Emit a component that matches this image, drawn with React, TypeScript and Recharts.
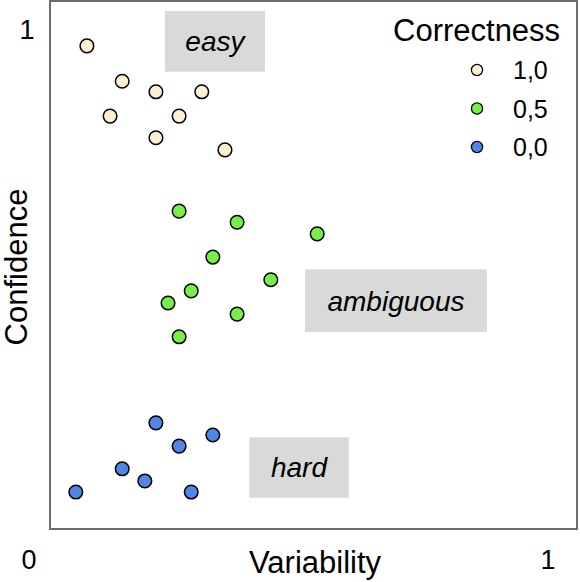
import { ScatterChart, Scatter, XAxis, YAxis, ReferenceArea, Legend } from 'recharts';

// correctness classes, top to bottom in the legend
const correctnessLabels = ['1,0', '0,5', '0,0'];
const correctnessColors = ['#fdf0d2', '#77ef48', '#4f86e8'];

// variability (x) / confidence (y), both on 0..1
const easyPoints = [
  { x: 0.07, y: 0.915 },
  { x: 0.137, y: 0.848 },
  { x: 0.201, y: 0.828 },
  { x: 0.288, y: 0.828 },
  { x: 0.114, y: 0.782 },
  { x: 0.245, y: 0.782 },
  { x: 0.201, y: 0.741 },
  { x: 0.332, y: 0.718 },
];

const ambiguousPoints = [
  { x: 0.245, y: 0.602 },
  { x: 0.355, y: 0.581 },
  { x: 0.507, y: 0.559 },
  { x: 0.309, y: 0.515 },
  { x: 0.419, y: 0.472 },
  { x: 0.268, y: 0.451 },
  { x: 0.224, y: 0.428 },
  { x: 0.355, y: 0.407 },
  { x: 0.245, y: 0.364 },
];

const hardPoints = [
  { x: 0.201, y: 0.201 },
  { x: 0.309, y: 0.178 },
  { x: 0.245, y: 0.157 },
  { x: 0.137, y: 0.114 },
  { x: 0.18, y: 0.091 },
  { x: 0.049, y: 0.07 },
  { x: 0.268, y: 0.07 },
];

const regionLabels = ['easy', 'ambiguous', 'hard'];
const regionBounds = [
  { x1: 0.218, x2: 0.408, y1: 0.866, y2: 0.981 },
  { x1: 0.484, x2: 0.829, y1: 0.373, y2: 0.492 },
  { x1: 0.378, x2: 0.567, y1: 0.059, y2: 0.174 },
];

const seriesData = [easyPoints, ambiguousPoints, hardPoints];

const FONT = '"Liberation Sans", Arial, sans-serif';

const makeDot = (color: string) => (props: any) => (
  <circle cx={props.cx} cy={props.cy} r={6.8} fill={color} stroke="#000" strokeWidth={1.5} />
);

const XAxisText = (props: any) => {
  const vb = props.viewBox || { x: 50, y: 529, width: 527, height: 53 };
  return (
    <g fontFamily={FONT} fill="#000">
      <text x={vb.x - 21} y={vb.y + 40} fontSize={27} textAnchor="middle">0</text>
      <text x={vb.x + 498} y={vb.y + 40} fontSize={27} textAnchor="middle">1</text>
      <text x={vb.x + 265} y={vb.y + 44} fontSize={31} textAnchor="middle">Variability</text>
    </g>
  );
};

const YAxisText = (props: any) => {
  const vb = props.viewBox || { x: 0, y: 1, width: 50, height: 528 };
  const cx = vb.x + 27;
  const cy = vb.y + 266;
  return (
    <g fontFamily={FONT} fill="#000">
      <text x={vb.x + 27} y={vb.y + 38} fontSize={27} textAnchor="middle">1</text>
      <text x={cx} y={cy} fontSize={31} textAnchor="middle" transform={`rotate(-90, ${cx}, ${cy})`}>
        Confidence
      </text>
    </g>
  );
};

const CorrectnessLegend = () => (
  <svg width={190} height={170} style={{ display: 'block' }}>
    <text x={8} y={41} fontSize={31} fontFamily={FONT} fill="#000">Correctness</text>
    {correctnessLabels.map((label, i) => (
      <g key={label}>
        <circle cx={92} cy={70 + i * 38.5} r={5.6} fill={correctnessColors[i]} stroke="#000" strokeWidth={1.3} />
        <text x={128} y={79 + i * 38.5} fontSize={25} fontFamily={FONT} fill="#000">{label}</text>
      </g>
    ))}
  </svg>
);

export default function App() {
  return (
    <div style={{ position: 'absolute', left: 0, top: 0, width: 580, height: 582, background: '#fff', fontFamily: FONT }}>
      <ScatterChart width={580} height={582} margin={{ top: 1, right: 3, left: 0, bottom: 0 }}>
        <XAxis
          type="number"
          dataKey="x"
          domain={[0, 1]}
          height={53}
          tick={false}
          tickLine={false}
          axisLine={false}
          label={XAxisText}
        />
        <YAxis
          type="number"
          dataKey="y"
          domain={[0, 1]}
          width={50}
          tick={false}
          tickLine={false}
          axisLine={false}
          label={YAxisText}
        />
        {regionBounds.map((b, i) => (
          <ReferenceArea
            key={regionLabels[i]}
            x1={b.x1}
            x2={b.x2}
            y1={b.y1}
            y2={b.y2}
            fill="#d9d9d9"
            fillOpacity={1}
            stroke="none"
            label={{ value: regionLabels[i], position: 'center', fontSize: 28, fontStyle: 'italic', fill: '#000', fontFamily: FONT }}
          />
        ))}
        <ReferenceArea x1={0} x2={1} y1={0} y2={1} fill="none" stroke="#6e6e6e" strokeWidth={2} />
        {seriesData.map((points, i) => (
          <Scatter
            key={correctnessLabels[i]}
            name={correctnessLabels[i]}
            data={points}
            fill={correctnessColors[i]}
            shape={makeDot(correctnessColors[i])}
            isAnimationActive={false}
          />
        ))}
        <Legend
          layout="horizontal"
          verticalAlign="middle"
          align="center"
          wrapperStyle={{ left: 385, top: 0, width: 190, height: 170 }}
          content={CorrectnessLegend}
        />
      </ScatterChart>
    </div>
  );
}
